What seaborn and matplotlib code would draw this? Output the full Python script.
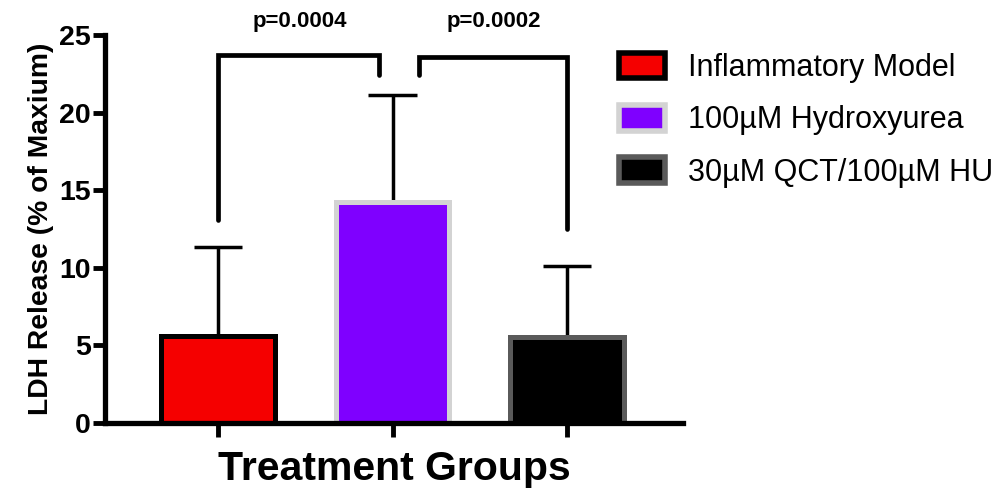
#!/usr/bin/env python3

import numpy as np
import matplotlib
matplotlib.use("Agg")
import matplotlib.pyplot as plt
from matplotlib.patches import Patch
import seaborn as sns

# Data
groups = ["Inflammatory Model", "100\u00b5M Hydroxyurea", "30\u00b5M QCT/100\u00b5M HU"]
means = [5.6, 14.26, 5.5]
sd_upper = [5.71, 6.87, 4.62]
fill_colors = ["#F50000", "#7F00FF", "#000000"]
edge_colors = ["#000000", "#D3D3D3", "#5A5A5A"]

# significance brackets: (left group pos, right group pos, left leg bottom, top, right leg bottom)
brackets = [(0.0, 0.92, 13.06, 23.7, 22.4), (1.15, 2.0, 22.4, 23.6, 12.5)]
p_labels = ["p=0.0004", "p=0.0002"]
p_pos = [0.467, 1.58]

sns.set_theme(style="ticks")
plt.rcParams['font.family'] = ['Liberation Sans', 'DejaVu Sans']
for key in ["text.color", "axes.labelcolor", "xtick.color", "ytick.color"]:
    plt.rcParams[key] = "black"

fig = plt.figure(figsize=(9.98, 4.88), dpi=100)
ax = fig.add_axes([105 / 998, (488 - 422.7) / 488, 578 / 998, 387.7 / 488])

sns.barplot(x=groups, y=means, hue=groups, palette=fill_colors, saturation=1,
            width=0.65, legend=False, errorbar=None, ax=ax, zorder=2)

for cont, ec in zip(ax.containers, edge_colors):
    for bar in cont:
        bar.set_edgecolor(ec)
        bar.set_linewidth(3.6)

# upward-only error bars
xpos = np.arange(len(groups))
tops = np.array(means) + np.array(sd_upper)
ax.vlines(xpos, means, tops, color="black", lw=2.5, zorder=1)
ax.hlines(tops, xpos - 0.14, xpos + 0.14, color="black", lw=2.5, zorder=1)

# significance brackets
for (x0, x1, yl, yt, yr), lab, px in zip(brackets, p_labels, p_pos):
    ax.plot([x0, x0, x1, x1], [yl, yt, yt, yr], color="black", lw=3.4,
            solid_capstyle="round", solid_joinstyle="miter", clip_on=False)
    ax.text(px, 25.9, lab, ha="center", va="center", fontsize=16,
            fontweight="bold", clip_on=False)

ax.set_xlim(-0.648, 2.665)
ax.set_ylim(0, 25)
ax.set_yticks([0, 5, 10, 15, 20, 25])
ax.set_xticks(xpos)
ax.set_xticklabels(["", "", ""])

sns.despine(ax=ax)
for side in ["left", "bottom"]:
    ax.spines[side].set_linewidth(3.8)
    ax.spines[side].set_color("black")

ax.tick_params(axis="y", length=9, width=3.5, pad=1, labelsize=20.5)
ax.tick_params(axis="x", length=10, width=3.5)
for lbl in ax.get_yticklabels():
    lbl.set_fontweight("bold")

ax.set_ylabel("LDH Release (% of Maxium)", fontsize=20.3, fontweight="bold", labelpad=4)
ax.set_xlabel("Treatment Groups", fontsize=29.5, fontweight="bold", labelpad=6)

handles = [Patch(facecolor=fc, edgecolor=ec, linewidth=4) for fc, ec in zip(fill_colors, edge_colors)]
fig.legend(handles, groups, loc="upper left", bbox_to_anchor=(619 / 998, 1 - 53 / 488),
           frameon=False, fontsize=22, handlelength=1.5, handleheight=0.9,
           handletextpad=0.75, labelspacing=0.72, borderaxespad=0, borderpad=0)

fig.savefig("out.png", dpi=100)
plt.close(fig)
